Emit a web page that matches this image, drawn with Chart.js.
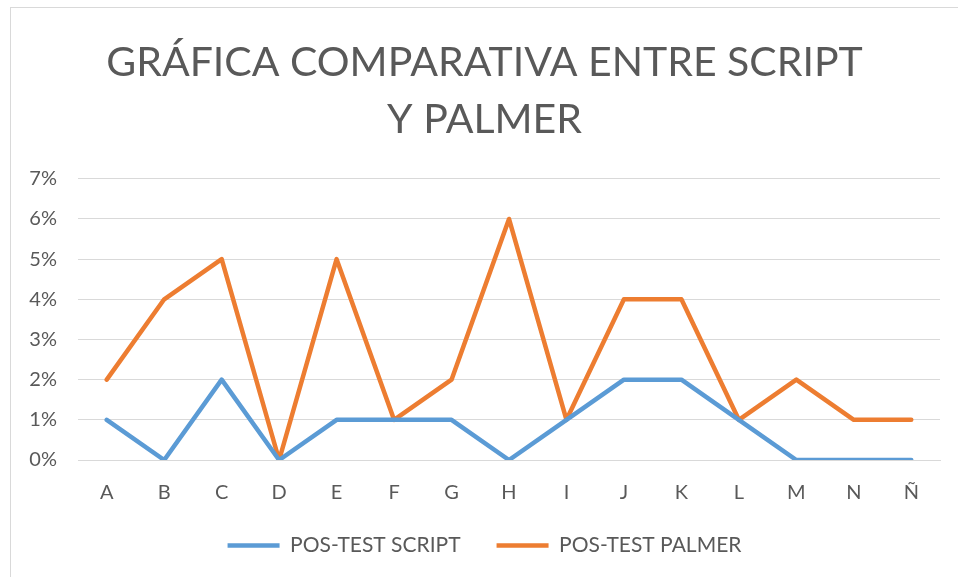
<!DOCTYPE html>
<html>
<head>
<meta charset="utf-8">
<script src="https://cdn.jsdelivr.net/npm/chart.js@4/dist/chart.umd.min.js"></script>
<style>
  html, body { margin: 0; padding: 0; background: #fff; overflow: hidden; }
  #wrap { position: relative; width: 958px; height: 577px; }
  #frame { position: absolute; left: 10px; top: 7px; width: 2000px; height: 2000px; border: 1px solid #d9d9d9; pointer-events: none; }
</style>
</head>
<body>
<div id="wrap">
  <canvas id="chart" width="958" height="577"></canvas>
  <div id="frame"></div>
</div>
<script>
// categorias y valores (en %)
const categorias = ['A', 'B', 'C', 'D', 'E', 'F', 'G', 'H', 'I', 'J', 'K', 'L', 'M', 'N', 'Ñ'];
const postScript = [1, 0, 2, 0, 1, 1, 1, 0, 1, 2, 2, 1, 0, 0, 0];
const postPalmer = [2, 4, 5, 0, 5, 1, 2, 6, 1, 4, 4, 1, 2, 1, 1];
const tituloLineas = ['GRÁFICA COMPARATIVA ENTRE SCRIPT', 'Y PALMER'];

const gris = '#595959';
const fuente = 'Lato';

const ctx = document.getElementById('chart').getContext('2d');
new Chart(ctx, {
    type: 'line',
    data: {
        labels: categorias,
        datasets: [{
            label: 'POS-TEST SCRIPT',
            data: postScript,
            borderColor: '#5B9BD5',
            backgroundColor: '#5B9BD5',
            borderWidth: 4.5,
            borderCapStyle: 'round',
            borderJoinStyle: 'round',
            pointRadius: 0,
            tension: 0
        }, {
            label: 'POS-TEST PALMER',
            data: postPalmer,
            borderColor: '#ED7D31',
            backgroundColor: '#ED7D31',
            borderWidth: 4.5,
            borderCapStyle: 'round',
            borderJoinStyle: 'round',
            pointRadius: 0,
            tension: 0
        }]
    },
    options: {
        responsive: false,
        animation: false,
        layout: {
            padding: { left: 29, right: 18, top: 34, bottom: 11 }
        },
        plugins: {
            title: {
                display: true,
                text: tituloLineas,
                color: gris,
                font: { family: fuente, size: 41, weight: 'normal', lineHeight: 1.4 },
                padding: { top: 0, bottom: 30 }
            },
            legend: {
                position: 'bottom',
                labels: {
                    color: gris,
                    font: { family: fuente, size: 21 },
                    usePointStyle: true,
                    pointStyle: 'line',
                    pointStyleWidth: 52,
                    padding: 36
                }
            },
            tooltip: { enabled: false }
        },
        scales: {
            x: {
                offset: true,
                grid: { display: false, drawTicks: false },
                border: { display: true, color: '#d9d9d9' },
                ticks: { color: gris, font: { family: fuente, size: 20 }, padding: 21 },
                afterFit: function(scale) { scale.height = 39; }
            },
            y: {
                min: 0,
                max: 7,
                grid: { color: '#d9d9d9', drawTicks: false },
                border: { display: false },
                ticks: {
                    stepSize: 1,
                    color: gris,
                    font: { family: fuente, size: 20 },
                    padding: 21,
                    callback: function(v) { return v + '%'; }
                },
                afterFit: function(scale) { scale.width = 49; }
            }
        }
    }
});
</script>
</body>
</html>
